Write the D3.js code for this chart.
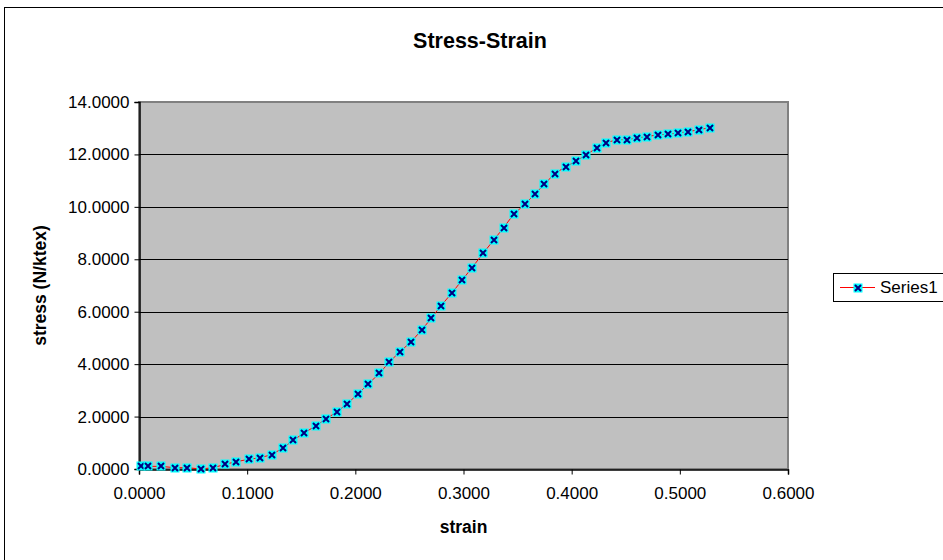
<!DOCTYPE html>
<html>
<head>
<meta charset="utf-8">
<script src="https://cdn.jsdelivr.net/npm/d3@7"></script>
<style>
	body { margin: 0; background: #ffffff; }
	svg { display: block; font-family: Arial, "Liberation Sans", sans-serif; }
	.tick-label { font-size: 17px; fill: #000000; }
	.axis-title { font-size: 17.5px; font-weight: bold; fill: #000000; }
	.chart-title { font-size: 21.5px; font-weight: bold; fill: #000000; }
</style>
</head>
<body>
<svg id="chart"></svg>
<script>
// Series values.
var strainValues = [
	0.0020, 0.0081, 0.0205, 0.0330, 0.0448, 0.0570, 0.0688, 0.0796, 0.0900, 0.1014,
	0.1122, 0.1226, 0.1331, 0.1423, 0.1525, 0.1632, 0.1731, 0.1830, 0.1925, 0.2026,
	0.2121, 0.2223, 0.2315, 0.2411, 0.2515, 0.2617, 0.2702, 0.2792, 0.2894, 0.2986,
	0.3079, 0.3183, 0.3279, 0.3371, 0.3464, 0.3568, 0.3657, 0.3748, 0.3842, 0.3946,
	0.4039, 0.4134, 0.4230, 0.4318, 0.4420, 0.4512, 0.4604, 0.4697, 0.4798, 0.4891,
	0.4983, 0.5079, 0.5174, 0.5276
];
var stressValues = [
	0.10, 0.10, 0.10, 0.05, 0.05, 0.00, 0.05, 0.18, 0.28, 0.37,
	0.43, 0.55, 0.80, 1.09, 1.37, 1.64, 1.92, 2.18, 2.49, 2.87,
	3.25, 3.65, 4.08, 4.47, 4.85, 5.32, 5.75, 6.23, 6.72, 7.20,
	7.68, 8.24, 8.73, 9.21, 9.72, 10.10, 10.48, 10.86, 11.27, 11.53,
	11.74, 11.98, 12.25, 12.45, 12.56, 12.56, 12.63, 12.68, 12.75, 12.77,
	12.82, 12.87, 12.94, 13.02
];
var xTicks = [0, 0.1, 0.2, 0.3, 0.4, 0.5, 0.6];
var yTicks = [0, 2, 4, 6, 8, 10, 12, 14];
var seriesName = "Series1";

// Definitions.
var width = 943;
var height = 560;
var plotLeft = 139;
var plotRight = 788;
var plotTop = 102;
var plotBottom = 469;
var tickLength = 5;

var svg = d3.select("#chart")
	.attr("width", width)
	.attr("height", height);

var points = strainValues.map(function(d, i) { return {"x" : d, "y" : stressValues[i]}; });

var x = d3.scaleLinear().domain([0, 0.6]).range([plotLeft, plotRight]);
var y = d3.scaleLinear().domain([0, 14]).range([plotBottom, plotTop]);

// Outer chart frame (right and bottom edges run off the page).
svg.append("rect")
	.attr("x", 4.5)
	.attr("y", 7.5)
	.attr("width", width + 20)
	.attr("height", height + 20)
	.attr("fill", "#ffffff")
	.attr("stroke", "#000000")
	.attr("stroke-width", 1);

// Plot area backing.
svg.append("rect")
	.attr("x", plotLeft)
	.attr("y", plotTop)
	.attr("width", plotRight - plotLeft)
	.attr("height", plotBottom - plotTop)
	.attr("fill", "#c0c0c0")
	.attr("stroke", "#808080")
	.attr("stroke-width", 2);

// Horizontal gridlines.
svg.append("g")
	.selectAll("line")
	.data(yTicks.filter(function(d) { return d > 0 && d < 14; }))
	.enter()
	.append("line")
	.attr("x1", plotLeft)
	.attr("x2", plotRight)
	.attr("y1", function(d) { return Math.round(y(d)) + 0.5; })
	.attr("y2", function(d) { return Math.round(y(d)) + 0.5; })
	.attr("stroke", "#000000")
	.attr("stroke-width", 1);

// Y axis.
var yAxis = svg.append("g")
	.attr("transform", "translate(" + (plotLeft + 0.5) + ",0)")
	.call(d3.axisLeft(y)
		.tickValues(yTicks)
		.tickSize(tickLength)
		.tickPadding(5)
		.tickFormat(d3.format(".4f")));
yAxis.select(".domain").attr("stroke", "#000000").attr("stroke-width", 1.5);
yAxis.selectAll(".tick line").attr("stroke", "#000000");
yAxis.selectAll(".tick text")
	.attr("class", "tick-label")
	.attr("font-size", null)
	.attr("font-family", null);

// X axis.
var xAxis = svg.append("g")
	.attr("transform", "translate(0," + (plotBottom + 0.5) + ")")
	.call(d3.axisBottom(x)
		.tickValues(xTicks)
		.tickSize(tickLength)
		.tickPadding(12)
		.tickFormat(d3.format(".4f")));
xAxis.select(".domain").attr("stroke", "#000000").attr("stroke-width", 1.5);
xAxis.selectAll(".tick line").attr("stroke", "#000000");
xAxis.selectAll(".tick text")
	.attr("class", "tick-label")
	.attr("font-size", null)
	.attr("font-family", null);

// Connecting line.
var line = d3.line()
	.x(function(d) { return x(d.x); })
	.y(function(d) { return y(d.y); });
svg.append("path")
	.datum(points)
	.attr("d", line)
	.attr("fill", "none")
	.attr("stroke", "#ff0000")
	.attr("stroke-width", 1);

// Markers: cyan square with a navy cross.
function drawMarker(sel)
{
	sel.append("rect")
		.attr("x", -4.5)
		.attr("y", -4.5)
		.attr("width", 9)
		.attr("height", 9)
		.attr("fill", "#00ffff");
	sel.append("path")
		.attr("d", "M-3,-3L3,3M-3,3L3,-3")
		.attr("stroke", "#000080")
		.attr("stroke-width", 2)
		.attr("fill", "none");
}
svg.append("g")
	.selectAll("g")
	.data(points)
	.enter()
	.append("g")
	.attr("transform", function(d) { return "translate(" + Math.round(x(d.x)) + "," + Math.round(y(d.y)) + ")"; })
	.call(drawMarker);

// Titles.
svg.append("text")
	.attr("class", "chart-title")
	.attr("x", 480)
	.attr("y", 48)
	.attr("text-anchor", "middle")
	.text("Stress-Strain");
svg.append("text")
	.attr("class", "axis-title")
	.attr("x", (plotLeft + plotRight) / 2)
	.attr("y", 533)
	.attr("text-anchor", "middle")
	.text("strain");
svg.append("text")
	.attr("class", "axis-title")
	.attr("transform", "translate(46," + ((plotTop + plotBottom) / 2) + ") rotate(-90)")
	.attr("text-anchor", "middle")
	.text("stress (N/ktex)");

// Legend.
var legend = svg.append("g").attr("transform", "translate(833,273)");
legend.append("rect")
	.attr("x", 0.5)
	.attr("y", 0.5)
	.attr("width", 120)
	.attr("height", 28)
	.attr("fill", "#ffffff")
	.attr("stroke", "#000000");
legend.append("line")
	.attr("x1", 7)
	.attr("x2", 42)
	.attr("y1", 14.5)
	.attr("y2", 14.5)
	.attr("stroke", "#ff0000")
	.attr("stroke-width", 1);
legend.append("g")
	.attr("transform", "translate(25,15)")
	.call(drawMarker);
legend.append("text")
	.attr("class", "tick-label")
	.attr("x", 47)
	.attr("y", 20)
	.text(seriesName);
</script>
</body>
</html>
